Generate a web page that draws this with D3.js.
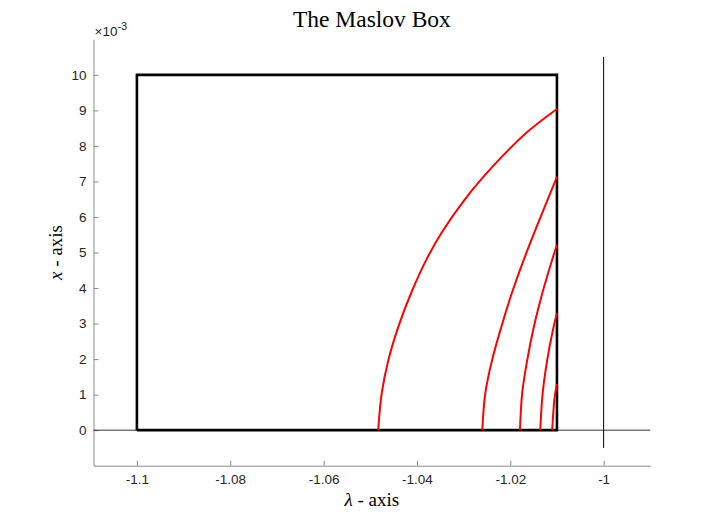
<!DOCTYPE html>
<html>
<head>
<meta charset="utf-8">
<script src="https://cdn.jsdelivr.net/npm/d3@7"></script>
<style>
	body { margin: 0; background: #fff; }
	.axis path, .axis line { stroke: #8c8c8c; }
	.axis text { font-family: "Liberation Sans", Arial, sans-serif; font-size: 13.5px; fill: #262626; }
	.lbl { font-family: "Liberation Serif", serif; fill: #000; }
</style>
</head>
<body>
<div id="chart"></div>
<script>
// tick values / labels
var xTicks = [-1.1, -1.08, -1.06, -1.04, -1.02, -1];
var xTickLabels = ["-1.1", "-1.08", "-1.06", "-1.04", "-1.02", "-1"];
var yTicks = [0, 0.001, 0.002, 0.003, 0.004, 0.005, 0.006, 0.007, 0.008, 0.009, 0.01];
var yTickLabels = ["0", "1", "2", "3", "4", "5", "6", "7", "8", "9", "10"];

// the box
var boxLambda = [-1.1, -1.1, -1.01, -1.01, -1.1];
var boxX = [0, 0.01, 0.01, 0, 0];

// vertical line at lambda = -1
var vLineLambda = [-1, -1];
var vLineX = [-0.0005, 0.0105];

// red curves
var curve1Lambda = [-1.0483, -1.04754, -1.04610, -1.04396, -1.04124, -1.03797, -1.03475, -1.02976, -1.02370, -1.01655, -1.0100];
var curve1X = [0, 0.00104, 0.00198, 0.00292, 0.00386, 0.0048, 0.00555, 0.00649, 0.00743, 0.00837, 0.00904];
var curve2Lambda = [-1.0260, -1.02535, -1.02388, -1.02188, -1.01966, -1.01709, -1.01430, -1.0100];
var curve2X = [0, 0.00104, 0.00198, 0.00292, 0.00386, 0.0048, 0.00574, 0.00713];
var curve3Lambda = [-1.01792, -1.01745, -1.01636, -1.01493, -1.01313, -1.01101, -1.0100];
var curve3X = [0, 0.00104, 0.00198, 0.00292, 0.00386, 0.0048, 0.00522];
var curve4Lambda = [-1.01358, -1.01306, -1.01208, -1.01086, -1.0100];
var curve4X = [0, 0.00104, 0.00198, 0.00282, 0.0033];
var curve5Lambda = [-1.01101, -1.01079, -1.01047, -1.0100];
var curve5X = [0, 0.00048, 0.00095, 0.0013];

var curves = [
	[curve1Lambda, curve1X],
	[curve2Lambda, curve2X],
	[curve3Lambda, curve3X],
	[curve4Lambda, curve4X],
	[curve5Lambda, curve5X]
];

var width = 719, height = 523;
var margin = {left: 93.5, right: 68.7, top: 39.3, bottom: 57.3};
var w = width - margin.left - margin.right;
var h = height - margin.top - margin.bottom;

var svg = d3.select("#chart").append("svg").attr("width", width).attr("height", height);
var g = svg.append("g").attr("transform", "translate(" + margin.left + "," + margin.top + ")");

var x = d3.scaleLinear().domain([-1.1093, -0.99]).range([0, w]);
var y = d3.scaleLinear().domain([-0.001, 0.011]).range([h, 0]);

function pts(lam, xs){
	return lam.map(function(l, i){ return [l, xs[i]]; });
}

var line = d3.line()
	.x(function(d){ return x(d[0]); })
	.y(function(d){ return y(d[1]); });

var smooth = d3.line()
	.x(function(d){ return x(d[0]); })
	.y(function(d){ return y(d[1]); })
	.curve(d3.curveCatmullRom.alpha(0.5));

// axes
g.append("g")
	.attr("class", "axis x")
	.attr("transform", "translate(0," + h + ")")
	.call(d3.axisBottom(x).tickValues(xTicks).tickFormat(function(d, i){ return xTickLabels[i]; })
		.tickSizeInner(-5).tickSizeOuter(0).tickPadding(9));

g.append("g")
	.attr("class", "axis y")
	.call(d3.axisLeft(y).tickValues(yTicks).tickFormat(function(d, i){ return yTickLabels[i]; })
		.tickSizeInner(-5).tickSizeOuter(0).tickPadding(7));

// horizontal line x = 0
g.append("path")
	.attr("d", line(pts(x.domain(), [0, 0])))
	.attr("fill", "none").attr("stroke", "#000").attr("stroke-width", 0.8);

// box
g.append("path")
	.attr("d", line(pts(boxLambda, boxX)))
	.attr("fill", "none").attr("stroke", "#000").attr("stroke-width", 2.6)
	.attr("stroke-linejoin", "miter");

// red curves
curves.forEach(function(c){
	g.append("path")
		.attr("d", smooth(pts(c[0], c[1])))
		.attr("fill", "none").attr("stroke", "#ff0000").attr("stroke-width", 2);
});

// vertical line lambda = -1
g.append("path")
	.attr("d", line(pts(vLineLambda, vLineX)))
	.attr("fill", "none").attr("stroke", "#000").attr("stroke-width", 1);

// exponent
var ex = svg.append("text")
	.attr("x", margin.left + 1).attr("y", 36)
	.style("font-family", "Liberation Sans, Arial, sans-serif").style("font-size", "13.5px").style("fill", "#262626");
ex.append("tspan").text("×10");
ex.append("tspan").attr("dy", -6).style("font-size", "11px").text("-3");

// title
svg.append("text").attr("class", "lbl")
	.attr("x", margin.left + w / 2).attr("y", 27)
	.attr("text-anchor", "middle").style("font-size", "23.5px")
	.text("The Maslov Box");

// x label
var xl = svg.append("text").attr("class", "lbl")
	.attr("x", margin.left + w / 2).attr("y", 506)
	.attr("text-anchor", "middle").style("font-size", "19px");
xl.append("tspan").style("font-style", "italic").text("λ");
xl.append("tspan").text(" - axis");

// y label
var yl = svg.append("text").attr("class", "lbl")
	.attr("transform", "translate(62," + (margin.top + h / 2) + ") rotate(-90)")
	.attr("text-anchor", "middle").style("font-size", "19px");
yl.append("tspan").style("font-style", "italic").text("x");
yl.append("tspan").text(" - axis");
</script>
</body>
</html>
